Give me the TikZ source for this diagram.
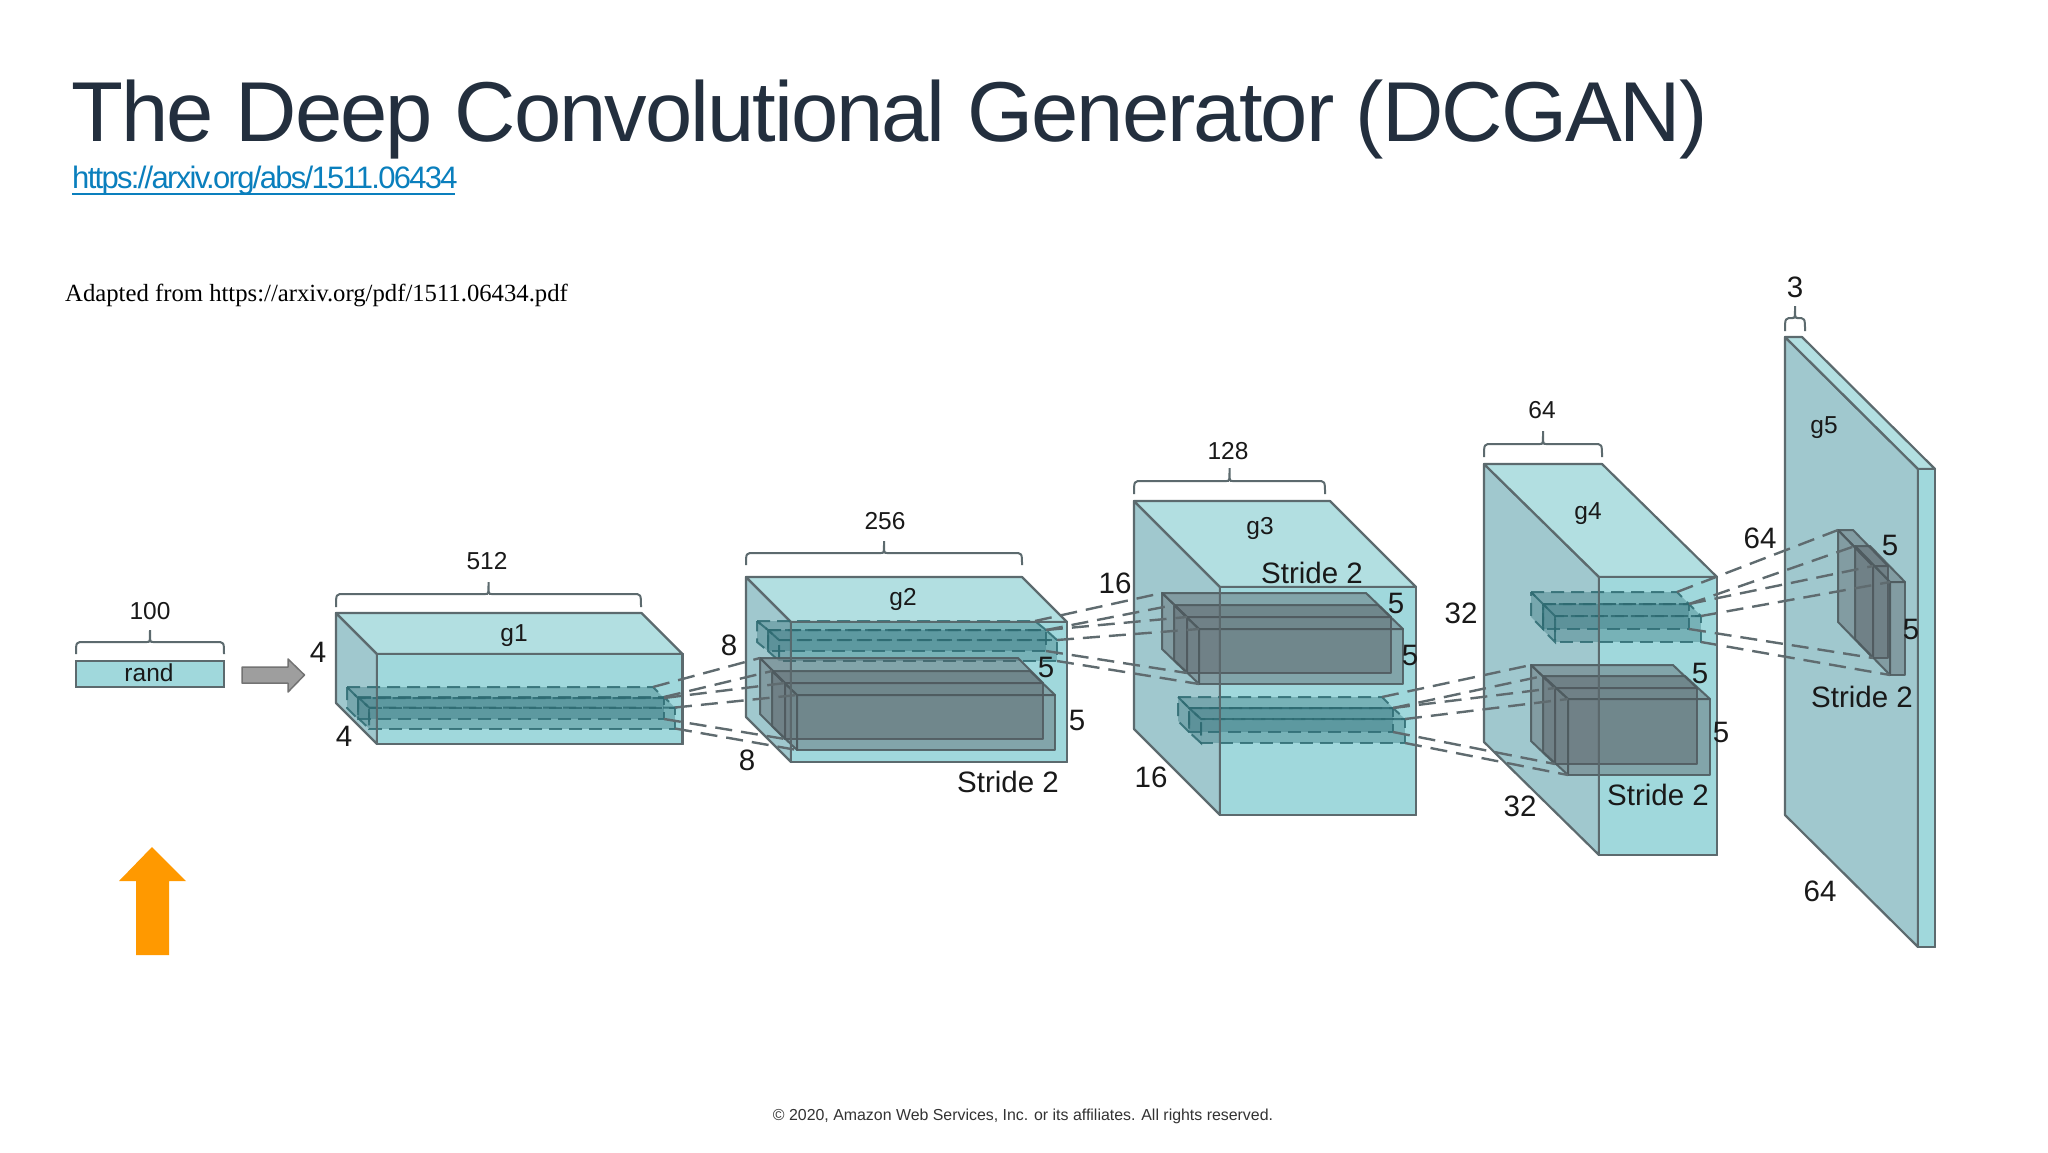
\documentclass[tikz,border=0pt]{standalone}
\usepackage{fontspec}
\setmainfont{Liberation Sans}
\newfontfamily\serifadapt{Liberation Serif}
\newfontfamily\titlefont[LetterSpace=-2.33]{Liberation Sans}
\newfontfamily\linkfont[LetterSpace=-5.5]{Liberation Sans}
\definecolor{edgegray}{HTML}{5C6A6E}
\definecolor{frontteal}{HTML}{A0D8DC}
\definecolor{topteal}{HTML}{B2DFE1}
\definecolor{leftteal}{HTML}{A0C8CE}
\definecolor{solidfill}{HTML}{555A60}
\definecolor{solidedge}{HTML}{4F5C60}
\definecolor{dashfill}{HTML}{2F6F78}
\definecolor{dashedge}{HTML}{2F6B72}
\definecolor{connector}{HTML}{5F6B6F}
\definecolor{titleink}{HTML}{232F3E}
\definecolor{linkblue}{HTML}{0A7FBD}
\definecolor{orangearrow}{HTML}{FF9900}
\tikzset{
  boxleft/.style={fill=leftteal,draw=edgegray,line width=2.2pt,line join=round},
  boxtop/.style={fill=topteal,draw=edgegray,line width=2.2pt,line join=round},
  boxfront/.style={fill=frontteal,draw=edgegray,line width=2.2pt,line join=round},
  solidface/.style={fill=solidfill,fill opacity=.4,draw=solidedge,draw opacity=.9,line width=2pt,line join=round},
  dashface/.style={fill=dashfill,fill opacity=.36,draw=dashedge,draw opacity=.85,line width=2pt,dash pattern=on 13pt off 7pt},
  recoat/.style={draw=edgegray,draw opacity=.85,line width=2pt},
  conn/.style={draw=connector,line width=2.4pt,dash pattern=on 17pt off 9pt},
  bracket/.style={draw=edgegray,line width=2pt},
  smalllbl/.style={font=\fontsize{24.5}{24}\selectfont,inner sep=0pt,text=black!90},
  biglbl/.style={font=\fontsize{29.5}{29}\selectfont,inner sep=0pt,text=black!90},
}
% name, x, y (back top left), w, h, dx, dy, left, top, front styles
\newcommand{\prismat}[8]{%
  \coordinate (#1-btl) at (#2,#3);
  \coordinate (#1-btr) at (#2+#4,#3);
  \coordinate (#1-bbl) at (#2,#3+#5);
  \coordinate (#1-ftl) at (#2+#6,#3+#7);
  \coordinate (#1-ftr) at (#2+#4+#6,#3+#7);
  \coordinate (#1-fbl) at (#2+#6,#3+#7+#5);
  \coordinate (#1-fbr) at (#2+#4+#6,#3+#7+#5);
  \def\styl{#8}%
  \expandafter\drawprism\styl\relax{#1}}
\def\drawprism#1,#2,#3\relax#4{%
  \path[#1] (#4-btl) -- (#4-ftl) -- (#4-fbl) -- (#4-bbl) -- cycle;
  \path[#2] (#4-btl) -- (#4-btr) -- (#4-ftr) -- (#4-ftl) -- cycle;
  \path[#3] (#4-ftl) -- (#4-ftr) -- (#4-fbr) -- (#4-fbl) -- cycle;}
\newcommand{\boxprism}[7]{\prismat{#1}{#2}{#3}{#4}{#5}{#6}{#7}{boxleft,boxtop,boxfront}}
\newcommand{\solidprism}[7]{\prismat{#1}{#2}{#3}{#4}{#5}{#6}{#7}{solidface,solidface,solidface}}
\newcommand{\dashprism}[7]{\prismat{#1}{#2}{#3}{#4}{#5}{#6}{#7}{dashface,dashface,dashface}}
\newcommand{\recoatfront}[1]{\draw[recoat] (#1-ftl) -- (#1-ftr) -- (#1-fbr) -- (#1-fbl) -- cycle;}
% x1, x2, y bottom, y top, y tip
\newcommand{\brk}[5]{%
  \draw[bracket] (#1,#3) .. controls (#1,#4) and (#1,#4) .. (#1+8,#4) -- ({(#1+#2)/2-3},#4)
    .. controls ({(#1+#2)/2},#4) .. ({(#1+#2)/2},#5)
    .. controls ({(#1+#2)/2},#4) .. ({(#1+#2)/2+3},#4) -- (#2-8,#4)
    .. controls (#2,#4) and (#2,#4) .. (#2,#3);}
\begin{document}
\begin{tikzpicture}[x=1pt,y=-1pt]
\useasboundingbox (0,0) rectangle (2048,1152);
\fill[white] (0,0) rectangle (2048,1152);

% headings
\node[anchor=base west,inner sep=0pt,text=titleink,font=\titlefont\fontsize{85}{85}\selectfont] (title) at (71.5,141) {The Deep Convolutional Generator (DCGAN)};
\node[anchor=base west,inner sep=0pt,text=linkblue,font=\linkfont\fontsize{31}{31}\selectfont] (link) at (72,188) {https://arxiv.org/abs/1511.06434};
\coordinate (ulA) at (72,193.5);
\coordinate (ulB) at (455,193.5);
\draw[linkblue,line width=2pt] (ulA) -- (ulB);
\node[anchor=base west,inner sep=0pt,font=\serifadapt\fontsize{24.7}{25}\selectfont] (adapted) at (65,301) {Adapted from https://arxiv.org/pdf/1511.06434.pdf};
\node[inner sep=0pt,text=black!80,font=\fontsize{15.9}{17}\selectfont] (copy) at (1023,1116) {© 2020, Amazon Web Services, Inc. or its affiliates. All rights reserved.};

% orange arrow
\fill[orangearrow] (152,847) -- (186,881) -- (169,881) -- (169,955) -- (136,955) -- (136,881) -- (119,881) -- cycle;

% rand
\draw[fill=frontteal,draw=edgegray,line width=2.2pt] (76,661) rectangle (224,687);
\node[smalllbl] (randlbl) at (149,673) {rand};
\brk{76}{224}{654}{642}{630}
\node[smalllbl] (l100) at (150,611) {100};
\draw[fill=black!38,draw=black!55,line width=1.5pt,line join=round] (242,667) -- (288,667) -- (288,659) -- (304.5,675) -- (288,692) -- (288,683) -- (242,683) -- cycle;

% g1
\boxprism{g1}{336}{613}{305.5}{90}{41}{41}
\dashprism{g1a}{347}{687}{306}{21}{11}{11}
\dashprism{g1b}{358}{697}{306}{21}{11}{10.5}
\recoatfront{g1}
\brk{336}{641}{607}{594}{582}
\node[smalllbl] (l512) at (487,561) {512};
\node[smalllbl] (lg1) at (514,635.5) {g1};
\node[biglbl] (l4a) at (318,652) {4};
\node[biglbl] (l4b) at (344,736) {4};

% g2
\boxprism{g2}{746}{577}{276}{140}{45}{45}
\dashprism{g2dA}{757}{621}{278}{21}{11}{9}
\dashprism{g2dB}{768}{630}{278}{21}{11}{10}
\solidprism{g2a}{760}{658}{258}{56}{25}{25}
\solidprism{g2b}{772}{671}{258}{55}{25}{24}
\recoatfront{g2}
\brk{746}{1022}{565}{553}{541}
\node[smalllbl] (l256) at (885,521) {256};
\node[smalllbl] (lg2) at (903,599.5) {g2};
\node[biglbl] (l8a) at (729,645) {8};
\node[biglbl] (l8b) at (747,760) {8};
\node[biglbl] (l5a) at (1046,667) {5};
\node[biglbl] (l5b) at (1077,720) {5};
\node[biglbl] (s2) at (1008,782) {Stride 2};

% g3
\boxprism{g3}{1134}{501}{196}{228}{86}{86}
\dashprism{g3dA}{1178}{697}{204}{24}{11}{11}
\dashprism{g3dB}{1189}{708}{204}{24}{12}{11}
\solidprism{g3a}{1162}{593}{204}{56}{25}{24}
\solidprism{g3b}{1174}{605}{204}{55}{25}{24}
\recoatfront{g3}
\brk{1134}{1325}{494}{481}{468}
\node[smalllbl] (l128) at (1228,451) {128};
\node[smalllbl] (lg3) at (1260,528.5) {g3};
\node[biglbl] (l16a) at (1115,583) {16};
\node[biglbl] (l16b) at (1151,777) {16};
\node[biglbl] (l5c) at (1396,603) {5};
\node[biglbl] (l5d) at (1410,655) {5};
\node[biglbl] (s3) at (1312,573) {Stride 2};

% g4
\boxprism{g4}{1484}{464}{118}{278}{115}{113}
\dashprism{g4dA}{1531}{592}{146}{25}{12}{12}
\dashprism{g4dB}{1543}{604}{146}{26}{12}{12}
\solidprism{g4a}{1531}{665}{142}{76}{24}{23}
\solidprism{g4b}{1543}{676}{142}{76}{25}{23}
\recoatfront{g4}
\brk{1484}{1602}{457}{444}{431}
\node[smalllbl] (l64a) at (1542,410) {64};
\node[smalllbl] (lg4) at (1588,513.5) {g4};
\node[biglbl] (l32a) at (1461,613) {32};
\node[biglbl] (l32b) at (1520,806) {32};
\node[biglbl] (l5e) at (1700,673) {5};
\node[biglbl] (l5f) at (1721,732) {5};
\node[biglbl] (s4) at (1658,795) {Stride 2};

% g5
\boxprism{g5}{1785}{337}{17}{478}{133}{132}
\solidprism{g5a}{1838}{530}{15}{92}{35}{36}
\solidprism{g5b}{1855}{546}{15}{93}{35}{36}
\recoatfront{g5}
\brk{1785}{1805}{331}{318}{306}
\node[biglbl] (l3) at (1795,287) {3};
\node[smalllbl] (lg5) at (1824,427.5) {g5};
\node[biglbl] (l64b) at (1760,538) {64};
\node[biglbl] (l64c) at (1820,891) {64};
\node[biglbl] (l5g) at (1890,545) {5};
\node[biglbl] (l5h) at (1911,629) {5};
\node[biglbl] (s5) at (1862,697) {Stride 2};

% connectors
\draw[conn] (g1a-btr) -- (g2a-btl);
\draw[conn] (g1b-btr) -- (g2b-btl);
\draw[conn] (g1a-ftr) -- (g2a-ftl);
\draw[conn] (g1b-ftr) -- (g2b-ftl);
\draw[conn] (g1a-fbr) -- (g2a-fbl);
\draw[conn] (g1b-fbr) -- (g2b-fbl);
\draw[conn] (g2dA-btr) -- (g3a-btl);
\draw[conn] (g2dB-btr) -- (g3b-btl);
\draw[conn] (g2dA-ftr) -- (g3a-ftl);
\draw[conn] (g2dB-ftr) -- (g3b-ftl);
\draw[conn] (g2dA-fbr) -- (g3a-fbl);
\draw[conn] (g2dB-fbr) -- (g3b-fbl);
\draw[conn] (g3dA-btr) -- (g4a-btl);
\draw[conn] (g3dB-btr) -- (g4b-btl);
\draw[conn] (g3dA-ftr) -- (g4a-ftl);
\draw[conn] (g3dB-ftr) -- (g4b-ftl);
\draw[conn] (g3dA-fbr) -- (g4a-fbl);
\draw[conn] (g3dB-fbr) -- (g4b-fbl);
\draw[conn] (g4dA-btr) -- (g5a-btl);
\draw[conn] (g4dB-btr) -- (g5b-btl);
\draw[conn] (g4dA-ftr) -- (g5a-ftl);
\draw[conn] (g4dB-ftr) -- (g5b-ftl);
\draw[conn] (g4dA-fbr) -- (g5a-fbl);
\draw[conn] (g4dB-fbr) -- (g5b-fbl);
\end{tikzpicture}
\end{document}
